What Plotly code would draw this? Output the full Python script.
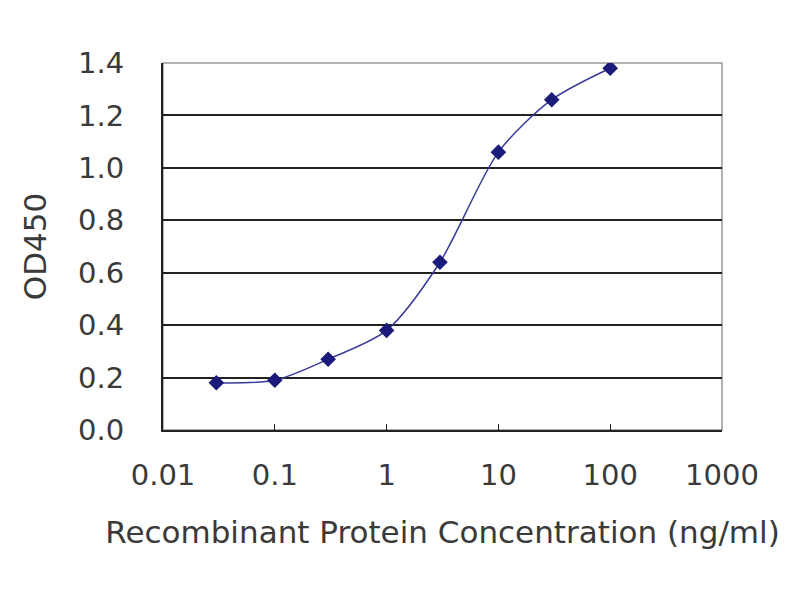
import plotly.graph_objects as go

# concentration (ng/ml) vs OD450
conc = [0.03, 0.1, 0.3, 1, 3, 10, 30, 100]
od450 = [0.18, 0.19, 0.27, 0.38, 0.64, 1.06, 1.26, 1.38]

x_ticks = [0.01, 0.1, 1, 10, 100, 1000]
x_labels = ["0.01", "0.1", "1", "10", "100", "1000"]
y_ticks = [0.0, 0.2, 0.4, 0.6, 0.8, 1.0, 1.2, 1.4]
y_labels = ["0.0", "0.2", "0.4", "0.6", "0.8", "1.0", "1.2", "1.4"]

navy = "#1a1a7a"
tick_font = dict(family="DejaVu Sans, Arial, sans-serif", size=29, color="#3a3a3a")
title_font = dict(family="DejaVu Sans, Arial, sans-serif", size=31, color="#3a3a3a")

fig = go.Figure(
    go.Scatter(
        x=conc, y=od450, mode="lines+markers",
        line=dict(color="#3a3a9a", width=1.5, shape="spline", smoothing=0.8),
        marker=dict(symbol="diamond", size=12, color=navy),
        showlegend=False,
    )
)

# page body adds ~8px offset, so margins are shifted to compensate
fig.update_layout(
    width=800, height=600,
    margin=dict(l=155, r=86, t=55, b=178),
    paper_bgcolor="white", plot_bgcolor="white",
    font=tick_font,
)

fig.update_xaxes(
    type="log", range=[-2, 3], automargin=False,
    tickvals=x_ticks, ticktext=x_labels, tickfont=tick_font,
    showgrid=False, zeroline=False,
    showline=True, linecolor="#222222", linewidth=2, mirror=False,
    ticks="inside", ticklen=6, tickcolor="#222222",
    ticklabelstandoff=18,
    title=dict(text="Recombinant Protein Concentration (ng/ml)", font=title_font, standoff=31),
)
fig.update_yaxes(
    range=[0, 1.4], automargin=False,
    tickvals=y_ticks, ticktext=y_labels, tickfont=tick_font,
    showgrid=True, gridcolor="#222222", gridwidth=2, zeroline=False,
    showline=True, linecolor="#222222", linewidth=2,
    ticks="", ticklabelstandoff=31,
    title=dict(text="OD450", font=title_font, standoff=22),
)

# grey frame on top and right
fig.add_shape(type="rect", xref="paper", yref="paper", x0=0, y0=0, x1=1, y1=1,
              line=dict(color="#999999", width=1.5), layer="below")

fig.write_html("out.html")
